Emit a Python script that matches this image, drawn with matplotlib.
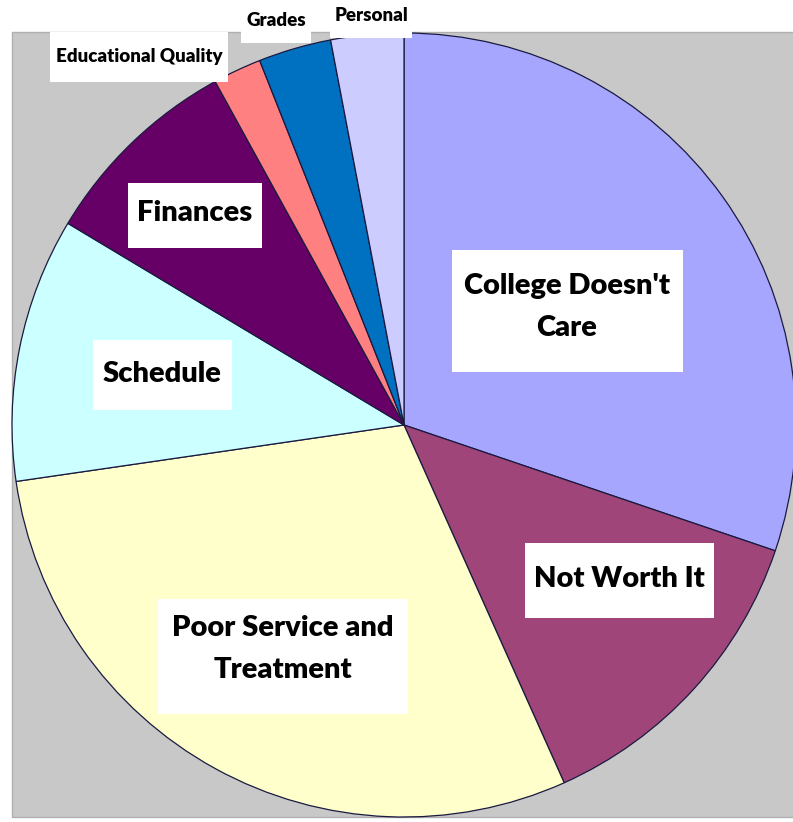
import matplotlib.pyplot as plt
from matplotlib.patches import Rectangle

# reasons (clockwise from 12 o'clock), percent of responses
reasons = ["College Doesn't\nCare", "Not Worth It", "Poor Service and\nTreatment",
           "Schedule", "Finances", "Educational Quality", "Grades", "Personal"]
shares = [30.2, 13.1, 29.4, 10.9, 8.4, 2.0, 3.0, 3.0]

colors = ["#a6a6ff", "#a0457a", "#ffffcc", "#ccffff",
          "#660066", "#ff8080", "#0070c0", "#ccccff"]

# label layout in pixels: centre x, text centre y (from top), box centre y, box w, box h, font size
label_boxes = [
    (567, 307, 311, 231, 122, 21),
    (619, 579, 580, 189, 75, 21),
    (283, 649, 657, 250, 115, 21),
    (162, 374, 375, 139, 70, 21),
    (195, 213, 215, 134, 65, 21),
    (139, 56, 57, 178, 50, 13.5),
    (276, 20, 20, 70, 45, 13.5),
    (371, 15, 18, 82, 40, 13.5),
]

W, H = 793, 822
fig = plt.figure(figsize=(W / 100, H / 100), dpi=100)
ax = fig.add_axes([0, 0, 1, 1])

# grey plot area
ax.add_patch(Rectangle((12, H - 817), 800, 785, facecolor="#c8c8c8",
                       edgecolor="#b0b0b0", linewidth=1, zorder=0))

ax.pie(shares, colors=colors, startangle=90, counterclock=False,
       center=(404, H - 425), radius=392, frame=True,
       wedgeprops=dict(edgecolor="#1a1a40", linewidth=0.9))
ax.set_xlim(0, W)
ax.set_ylim(0, H)
ax.set_aspect("equal")
ax.axis("off")

for text, (cx, ty, cy, bw, bh, fs) in zip(reasons, label_boxes):
    ax.add_patch(Rectangle((cx - bw / 2, H - cy - bh / 2), bw, bh,
                           facecolor="white", edgecolor="none", zorder=3))
    ax.text(cx, H - ty, text, ha="center", va="center", fontsize=fs,
            fontweight="heavy", family="Lato", linespacing=1.75, zorder=4)

fig.savefig("out.png", dpi=100)
